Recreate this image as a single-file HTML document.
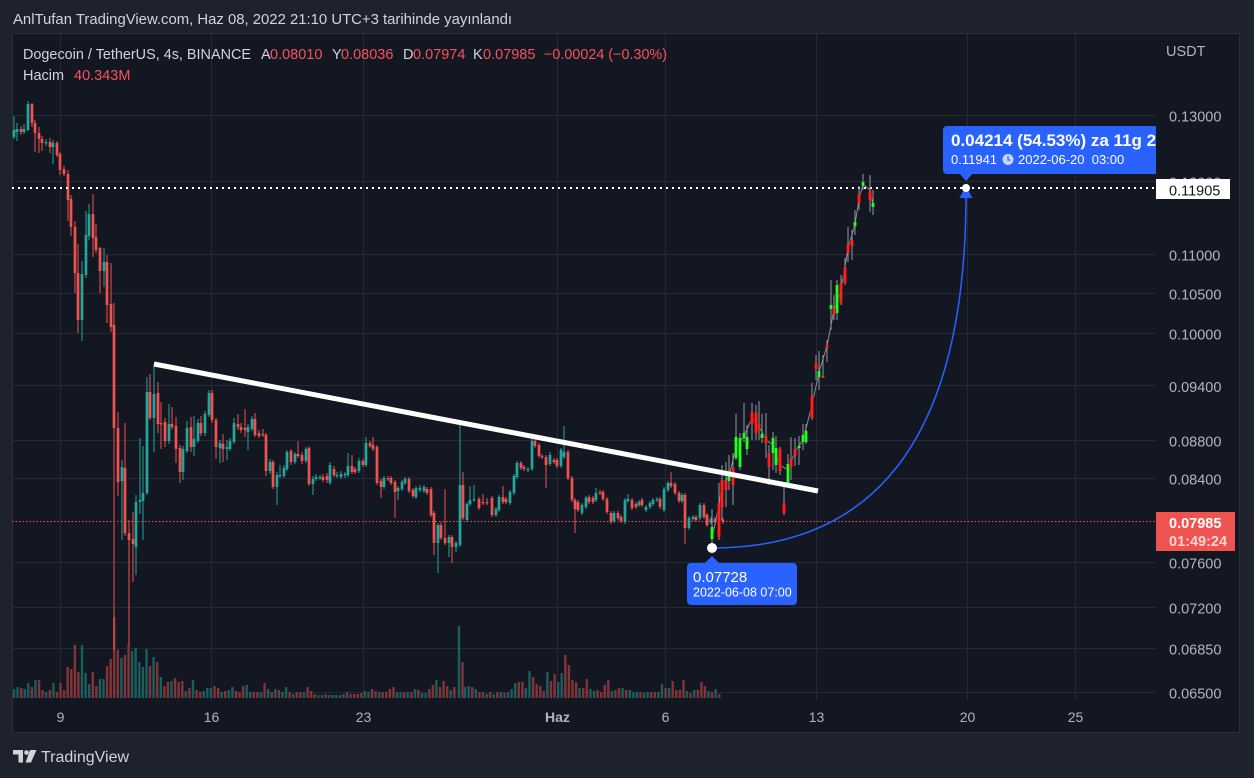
<!DOCTYPE html>
<html><head><meta charset="utf-8">
<style>html,body{margin:0;padding:0;background:#1e222d;overflow:hidden}svg{display:block}</style>
</head><body>
<svg width="1254" height="778" viewBox="0 0 1254 778" xmlns="http://www.w3.org/2000/svg" font-family="'Liberation Sans', sans-serif">
<defs><clipPath id="pc"><rect x="12" y="33" width="1144" height="700"/></clipPath></defs>
<rect width="1254" height="778" fill="#1e222d"/>
<rect x="12.5" y="33.5" width="1227" height="699" fill="#131722" stroke="#2a2e39"/>
<text x="13" y="24" font-size="14.5" fill="#d1d4dc" textLength="499" lengthAdjust="spacingAndGlyphs">AnlTufan TradingView.com, Haz 08, 2022 21:10 UTC+3 tarihinde yayınlandı</text>

<!-- grid -->
<g stroke="#252935" stroke-width="1">
<path d="M12 115.5H1156M12 181.5H1156M12 254.5H1156M12 293.5H1156M12 333.5H1156M12 385.5H1156M12 440.5H1156M12 478.5H1156M12 562.5H1156M12 607.5H1156M12 648.5H1156M12 692.5H1156"/>
<path d="M60.5 34V700M211.5 34V700M363.5 34V700M557.5 34V700M665.5 34V700M816.5 34V700M967.5 34V700M1075.5 34V700"/>
</g>

<!-- legend -->
<text y="59" font-size="14.5" fill="#d1d4dc"><tspan x="23" textLength="228" lengthAdjust="spacingAndGlyphs">Dogecoin / TetherUS, 4s, BINANCE</tspan><tspan x="261">A</tspan><tspan x="270" fill="#f7525f">0.08010</tspan><tspan x="332">Y</tspan><tspan x="341" fill="#f7525f">0.08036</tspan><tspan x="403">D</tspan><tspan x="413" fill="#f7525f">0.07974</tspan><tspan x="473">K</tspan><tspan x="483" fill="#f7525f">0.07985</tspan><tspan x="544" fill="#f7525f" textLength="123" lengthAdjust="spacingAndGlyphs">−0.00024 (−0.30%)</tspan></text>
<text y="80" font-size="14.5" fill="#d1d4dc"><tspan x="23">Hacim</tspan><tspan x="74" fill="#f7525f">40.343M</tspan></text>

<!-- volume -->
<g stroke-width="2.4" fill="none">
<path stroke="#1c5e5e" d="M14 698v-9M17.6 698v-11M24.7 698v-9M28.3 698v-15M35.5 698v-18M46.2 698v-6M53.4 698v-15M82 698v-53M85.6 698v-25M89.2 698v-14M99.9 698v-19M103.5 698v-19M121.4 698v-40M132.1 698v-47M135.7 698v-50M139.3 698v-36M142.9 698v-31M146.5 698v-49M153.6 698v-41M160.8 698v-21M171.5 698v-17M185.8 698v-7M193 698v-18M203.7 698v-7M207.3 698v-10M210.9 698v-10M221.6 698v-6M228.8 698v-8M232.4 698v-11M246.7 698v-13M250.3 698v-6M261 698v-6M268.2 698v-9M275.3 698v-9M282.5 698v-6M286.1 698v-11M293.2 698v-4M304 698v-6M318.3 698v-3M321.9 698v-3M329 698v-3M332.6 698v-3M336.2 698v-3M339.8 698v-3M346.9 698v-6M364.8 698v-7M368.4 698v-6M379.2 698v-6M397.1 698v-6M400.6 698v-6M407.8 698v-6M415 698v-9M422.1 698v-5M425.7 698v-5M436.4 698v-18M450.8 698v-8M459 698v-72M465.1 698v-11M468.7 698v-12M475.8 698v-9M486.6 698v-4M493.7 698v-4M500.9 698v-6M508 698v-6M511.6 698v-9M515.2 698v-15M525.9 698v-10M529.5 698v-27M547.4 698v-26M558.2 698v-16M561.7 698v-25M579.6 698v-10M590.4 698v-9M594 698v-7M611.9 698v-7M622.6 698v-10M629.8 698v-8M633.3 698v-6M636.9 698v-6M644.1 698v-5M647.7 698v-6M658.4 698v-6M662 698v-14M669.1 698v-10M687 698v-7M694.2 698v-8M708.5 698v-7M715.7 698v-9"/>
<path stroke="#813539" d="M21.2 698v-10M31.9 698v-11M39.1 698v-18M42.6 698v-8M49.8 698v-8M57 698v-6M60.5 698v-15M64.1 698v-8M67.7 698v-31M71.3 698v-29M74.9 698v-53M78.4 698v-26M92.8 698v-26M96.3 698v-12M107.1 698v-32M110.7 698v-39M114.2 698v-81M117.8 698v-48M125 698v-43M128.6 698v-54M150 698v-32M157.2 698v-36M164.4 698v-12M167.9 698v-16M175.1 698v-20M178.7 698v-16M182.3 698v-17M189.4 698v-10M196.6 698v-8M200.2 698v-6M214.5 698v-12M218.1 698v-10M225.2 698v-7M236 698v-7M239.5 698v-6M243.1 698v-12M253.9 698v-6M257.4 698v-6M264.6 698v-15M271.8 698v-6M278.9 698v-8M289.7 698v-6M296.8 698v-6M300.4 698v-6M307.6 698v-11M311.1 698v-7M314.7 698v-4M325.5 698v-4M343.4 698v-4M350.5 698v-4M354.1 698v-4M357.7 698v-4M361.3 698v-5M372 698v-9M375.6 698v-7M382.7 698v-6M386.3 698v-6M389.9 698v-9M393.5 698v-11M404.2 698v-6M411.4 698v-6M418.5 698v-8M429.3 698v-9M432.9 698v-13M440 698v-11M443.6 698v-17M447.2 698v-12M454.3 698v-11M462.5 698v-36M472.2 698v-11M479.4 698v-6M483 698v-6M490.1 698v-6M497.3 698v-6M504.5 698v-5M518.8 698v-16M522.4 698v-16M533.1 698v-21M536.7 698v-14M540.3 698v-12M543.8 698v-7M551 698v-17M554.6 698v-24M565.3 698v-43M568.9 698v-33M572.5 698v-18M576.1 698v-16M583.2 698v-10M586.8 698v-19M597.5 698v-8M601.1 698v-6M604.7 698v-13M608.3 698v-18M615.4 698v-8M619 698v-10M626.2 698v-8M640.5 698v-6M651.2 698v-6M654.8 698v-6M665.6 698v-10M672.7 698v-17M676.3 698v-8M679.9 698v-8M683.5 698v-18M690.6 698v-5M697.8 698v-8M701.4 698v-16M704.9 698v-12M712.1 698v-6M719.3 698v-4"/>
</g>

<!-- candles -->
<g fill="none">
<path stroke="#26a69a" stroke-width="1" d="M14 116V139M17 123V141M24 124V134M28 101V131M46 139V146M53 140V164M82 261V341M86 211V278M89 204V240M104 248V287M122 460V540M136 495V575M140 438V514M143 446V540M147 377V495M154 365V452M169 404V444M183 446V480M187 421V453M194 416V456M198 419V443M205 411V436M209 390V417M220 440V463M227 440V460M230 438V451M234 418V444M248 424V450M252 416V431M270 459V474M277 472V505M280 465V478M284 465V478M287 450V471M295 452V464M306 447V463M313 476V495M316 474V481M320 475V480M330 462V485M337 472V478M341 471V479M345 472V478M348 453V477M359 458V473M366 437V467M384 476V489M398 486V500M402 480V491M405 477V485M416 486V499M420 485V492M424 485V493M438 523V573M449 535V557M456 541V552M460 423V547M467 502V522M470 486V506M474 485V502M496 507V517M499 495V512M510 490V505M514 474V495M517 461V479M528 467V472M532 435V471M550 452V466M561 448V468M564 426V459M582 503V515M586 496V509M596 488V502M614 511V523M625 498V524M628 494V503M639 500V507M646 505V512M650 501V509M653 498V506M657 497V502M664 487V512M668 481V492M682 493V503M689 516V530M693 515V521M700 503V520M711 517V524M719 517V523"/>
<path stroke="#26a69a" stroke-width="2.7" d="M14 130V137M17 129V132M24 129V132M28 104V130M46 142V143.2M53 143V147M82 274V320M86 235V275M89 214V236M104 262V271M122 467V481M136 502V547M140 500V502M143 493V501M147 392V493M154 394V418M169 424V441M183 449V472M187 428V451M194 439V447M198 423V441M205 414V433M209 393V415M220 443V448M227 447V449M230 441V449M234 423V442M248 427V432M252 419V429M270 462V471M277 475V487M280 475V476.2M284 468V476M287 452V469M295 454V462M306 449V461M313 479V484M316 477V479M320 477V478.2M330 465V483M337 475V476.2M341 474V477M345 474V475.2M348 466V475M359 461V471M366 443V465M384 478V487M398 488V491M402 482V489M405 479V483M416 488V497M420 488V490M424 487V491M438 525V543M449 537V543M456 543V547M460 485V545M467 504V520M470 500V504M474 499V500.2M496 509V515M499 497V510M510 492V503M514 476V493M517 463V477M528 469V470.2M532 441V469M550 455V464M561 450V466M564 452V457M582 505V513M586 498V507M596 493V500M614 513V521M625 500V522M628 499V501M639 502V505M646 507V510M650 503V507M653 500V504M657 499V500.2M664 489V510M668 483V490M682 495V501M689 518V528M693 517V519M700 505V518M711 519V522M719 519V521"/>
<path stroke="#ef5350" stroke-width="1" d="M21 126V135M32 103V127M35 120V152M39 127V153M42 136V151M50 138V153M57 141V157M60 152V175M64 166V176M68 170V221M71 195V236M75 221V293M78 244V333M93 194V257M96 224V253M100 247V293M107 255V323M111 263V332M114 303V650M118 412V496M125 423V536M129 520V645M133 512V582M150 374V420M158 382V433M161 402V449M165 418V447M172 407V430M176 417V463M180 445V483M191 417V452M201 416V436M212 390V423M216 418V459M223 434V462M238 414V430M241 423V433M245 409V437M255 413V437M259 430V438M263 429V437M266 433V476M273 460V489M291 449V465M298 441V458M302 452V464M309 446V486M323 474V482M327 473V483M334 466V477M352 455V474M355 467V474M363 459V467M370 441V448M373 437V451M377 445V485M381 479V498M388 476V481M391 476V485M395 480V518M409 477V493M413 488V498M427 487V495M431 487V517M434 511V555M441 522V540M445 489V545M452 535V563M463 472V520M479 497V510M483 494V505M487 498V505M492 496V517M503 486V504M506 497V504M521 461V470M524 465V471M535 439V448M539 443V458M542 454V459M546 455V488M554 458V464M557 458V468M568 450V480M572 476V502M575 498V533M578 500V512M589 495V504M593 496V504M600 490V495M603 490V501M607 497V514M611 511V524M618 511V520M621 515V523M632 498V510M636 502V509M642 498V507M660 497V509M671 472V488M675 482V495M679 491V503M685 493V544M696 515V522M704 503V519M707 513V527M715 517V524M723 518V524"/>
<path stroke="#ef5350" stroke-width="2.7" d="M21 129V132M32 104V123M35 123V133M39 133V139M42 139V143M50 142V147M57 143V155M60 154V170M64 169V174M68 174V200M71 199V227M75 227V273M78 273V320M93 214V238M96 237V250M100 248V271M107 262V305M111 304V327M114 325V428M118 428V482M125 468V533M129 533V540M133 539V544M150 392V418M158 393V424M161 423V424.5M165 422V441M172 424V427M176 426V449M180 448V472M191 427V447M201 423V433M212 393V420M216 420V447M223 444V449M238 424V427M241 427V430M245 428V430M255 419V435M259 433V436M263 434V435.2M266 435V471M273 462V487M291 451V462M298 454V456M302 455V461M309 448V484M323 477V480M327 476V480M334 469V475M352 466V472M355 469V472M363 461V465M370 443V446M373 445V449M377 447V483M381 481V487M388 478V479.2M391 478V483M395 482V492M409 479V491M413 490V496M427 489V493M431 489V515M434 513V543M441 525V538M445 538V543M452 537V547M463 485V518M479 499V508M483 502V503.2M487 502V503.2M492 498V515M503 497V502M506 499V502M521 463V468M524 467V469M535 441V446M539 445V456M542 456V457.2M546 457V465M554 460V462M557 460V466M568 452V478M572 478V500M575 500V509M578 502V510M589 497V502M593 498V502M600 492V493.2M603 492V499M607 499V512M611 513V522M618 513V518M621 517V521M632 500V508M636 504V507M642 500V505M660 499V507M671 483V486M675 484V493M679 493V501M685 495V528M696 517V520M704 505V517M707 515V525M715 519V522M723 520V522"/>
</g>

<!-- dotted price lines -->
<line x1="12" y1="188" x2="1156" y2="188" stroke="#ffffff" stroke-width="2" stroke-dasharray="2 4"/>
<line x1="12" y1="521.5" x2="1156" y2="521.5" stroke="#ef5350" stroke-width="1" stroke-dasharray="1.5 2"/>

<!-- projection path -->
<polyline fill="none" stroke="#8a8d96" stroke-width="1" points="712,539 719,505 722,485 729,476 736,448 744,436 752,418 759,426 766,440 773,445 780,465 788,470 795,452 803,440 812,405 819,372 827,346 834,310 841,290 848,249 855,224 859,200 863,184 870,190 873,205"/>
<path fill="none" stroke="#9598a1" stroke-width="1" d="M712 509V548M729 455V490M736 414V460M740 433V470M744 403V442M747 425V455M762 414V443M773 432V470M776 436V473M788 454V486M799 436V465M803 424V450M806 424V444M819 351V390M831 280V330M837 280V320M855 210V235M863 174V190M873 190V215M719 483V540M722 465V520M726 462V507M733 453V505M752 403V440M756 405V440M759 401V440M766 413V458M769 445V485M780 447V475M784 486V515M791 437V480M795 438V466M812 383V420M816 355V380M823 355V378M827 340V362M834 295V320M841 275V305M845 258V285M848 227V262M852 230V260M859 186V210M870 175V212"/>
<path fill="none" stroke="#0b7a0b" stroke-width="3.6" d="M712 527V539M729 473V481M736 437V458M740 438V467M744 433V438M747 437V449M762 434V438M773 438V453M776 448V465M788 464V483M799 446V448M803 435V442M806 431V442M819 371V377M831 305V309M837 285V313M855 222V226M863 182V186M873 203V207"/>
<path fill="none" stroke="#22ff22" stroke-width="2.4" d="M712 527V539M729 473V481M736 437V458M740 438V467M744 433V438M747 437V449M762 434V438M773 438V453M776 448V465M788 464V483M799 446V448M803 435V442M806 431V442M819 371V377M831 305V309M837 285V313M855 222V226M863 182V186M873 203V207"/>
<path fill="none" stroke="#8a0d0d" stroke-width="3.6" d="M719 503V537M722 480V507M726 481V490M733 468V485M752 412V424M756 413V433M759 424V429M766 436V443M769 453V467M780 449V471M784 503V513M791 459V467M795 449V456M812 396V418M816 363V369M823 376V378M827 345V348M834 308V314M841 283V303M845 267V283M848 244V253M852 240V246M859 194V203M870 191V200"/>
<path fill="none" stroke="#ff1f1f" stroke-width="2.4" d="M719 503V537M722 480V507M726 481V490M733 468V485M752 412V424M756 413V433M759 424V429M766 436V443M769 453V467M780 449V471M784 503V513M791 459V467M795 449V456M812 396V418M816 363V369M823 376V378M827 345V348M834 308V314M841 283V303M845 267V283M848 244V253M852 240V246M859 194V203M870 191V200"/>

<!-- trendline -->
<line x1="154" y1="364" x2="818" y2="491" stroke="#ffffff" stroke-width="5"/>

<!-- curve -->
<path d="M712 548Q966 548 966 194" fill="none" stroke="#2962ff" stroke-width="1.5"/>
<polygon points="966,186 959.5,198 972.5,198" fill="#2962ff"/>
<circle cx="966" cy="188" r="4" fill="#ffffff"/>
<circle cx="712" cy="548" r="5" fill="#ffffff"/>

<!-- annotation box 1 -->
<g clip-path="url(#pc)">
<rect x="943" y="126" width="260" height="48" rx="4" fill="#2962ff"/>
<polygon points="959,173 973,173 966,181" fill="#2962ff"/>
<text x="951" y="146" font-size="17" font-weight="bold" fill="#ffffff">0.04214 (54.53%) za 11g 20s</text>
<text x="951" y="164" font-size="13" fill="#ffffff">0.11941</text>
<circle cx="1008" cy="159.5" r="5.5" fill="#c9d6ff"/>
<path d="M1008 156v4h2.5" stroke="#2962ff" stroke-width="1.2" fill="none"/>
<text x="1018" y="164" font-size="13" fill="#ffffff" xml:space="preserve">2022-06-20  03:00</text>
</g>

<!-- annotation box 2 -->
<polygon points="712,556 704,564 720,564" fill="#2962ff"/>
<rect x="687" y="563" width="110" height="42" rx="4" fill="#2962ff"/>
<text x="693" y="582" font-size="15" fill="#ffffff">0.07728</text>
<text x="693" y="596.5" font-size="12.5" fill="#ffffff">2022-06-08 07:00</text>

<!-- price axis -->
<g font-size="14.5" fill="#b2b5be">
<text x="1166" y="56">USDT</text>
<text x="1169" y="121.5">0.13000</text>
<text x="1169" y="187.5">0.12000</text>
<text x="1169" y="260.5">0.11000</text>
<text x="1169" y="299.5">0.10500</text>
<text x="1169" y="339.5">0.10000</text>
<text x="1169" y="392">0.09400</text>
<text x="1169" y="446.5">0.08800</text>
<text x="1169" y="484.5">0.08400</text>
<text x="1169" y="568.5">0.07600</text>
<text x="1169" y="613.5">0.07200</text>
<text x="1169" y="654.5">0.06850</text>
<text x="1169" y="698.5">0.06500</text>
</g>
<rect x="1156" y="179" width="74" height="20" fill="#ffffff"/>
<text x="1169" y="195.5" font-size="14.5" fill="#131722">0.11905</text>
<rect x="1156" y="512" width="79" height="39" fill="#ef5350"/>
<text x="1169" y="528" font-size="14.5" font-weight="bold" fill="#ffffff">0.07985</text>
<text x="1169" y="546" font-size="14.5" font-weight="bold" fill="#fcd6d5">01:49:24</text>

<!-- time axis -->
<g font-size="14" fill="#b2b5be" text-anchor="middle">
<text x="60.5" y="722">9</text>
<text x="211.5" y="722">16</text>
<text x="363.5" y="722">23</text>
<text x="557.5" y="722" font-weight="bold">Haz</text>
<text x="665.5" y="722">6</text>
<text x="816.5" y="722">13</text>
<text x="967.5" y="722">20</text>
<text x="1075.5" y="722">25</text>
</g>

<!-- logo -->
<g fill="#d1d4dc">
<path d="M13 750h10v12.5h-4.5v-8h-5.5z"/>
<circle cx="26.5" cy="752.5" r="2.3"/>
<path d="M30 750h6.5l-5.5 12.5h-5.5z"/>
</g>
<text x="41" y="762" font-size="16" fill="#d1d4dc">TradingView</text>
</svg>
</body></html>
